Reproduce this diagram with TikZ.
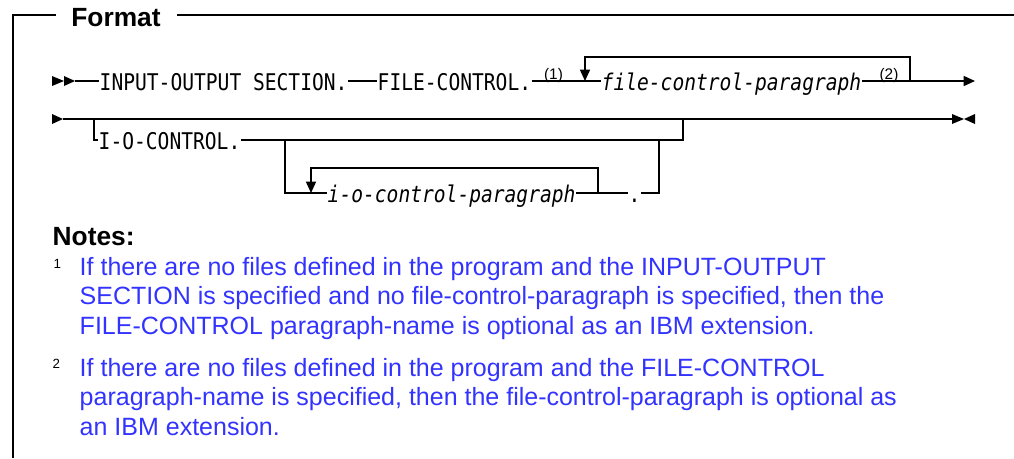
\documentclass[tikz,border=0pt]{standalone}
\usepackage{fontspec}
\setmainfont{Liberation Sans}
\newfontfamily\synfont{DejaVu Sans Mono}[FakeStretch=0.852]
\usetikzlibrary{arrows.meta}
\definecolor{noteblue}{RGB}{51,51,255}
\begin{document}
\begin{tikzpicture}[x=0.75pt, y=-0.75pt, line width=1.1pt,
  syn/.style={font=\synfont\fontsize{17.25}{19}\selectfont, inner sep=0pt,
    text height=13.5pt, text depth=0pt, anchor=west},
  synit/.style={syn, font=\synfont\itshape\fontsize{17.25}{19}\selectfont},
  refmark/.style={font=\fontsize{11.5}{13}\selectfont, inner sep=0pt, anchor=base},
  heading/.style={font=\bfseries\fontsize{19.75}{22}\selectfont, inner sep=0pt},
  notenum/.style={font=\fontsize{10}{11}\selectfont, inner sep=0pt, anchor=base west},
  notetext/.style={font=\fontsize{18.75}{22}\selectfont, text=noteblue, inner sep=0pt, anchor=base west},
  arrowend/.style={-{Triangle[length=8.5pt,width=7.5pt]}},
  marker/.style={fill=black, draw=none}]
\fill[white] (0,0) rectangle (1014,458);
\useasboundingbox (0,0) rectangle (1014,458);

% frame with its heading
\node[heading, anchor=base] (fmt) at (116,26) {Format};
\coordinate (frA) at (56,15);
\coordinate (frB) at (13,15);
\coordinate (frC) at (13,458);
\coordinate (frD) at (177,15);
\coordinate (frE) at (1014,15);
\draw (frA) -- (frB) -- (frC);
\draw (frD) -- (frE);

% first line of the syntax diagram
\fill[marker] (52,76) -- (64,81) -- (52,86) -- cycle;
\fill[marker] (64,76) -- (75,81) -- (64,86) -- cycle;
\coordinate (s1) at (75,81);
\node[syn] (ios) at (99,81) {INPUT-OUTPUT SECTION.};
\node[syn] (fc) at (377,81) {FILE-CONTROL.};
\coordinate (loopin) at (585,81);
\node[synit] (fcp) at (601,81) {file-control-paragraph};
\coordinate (loopout) at (910,81);
\coordinate (e1) at (975,81);
\node[refmark] (r1) at (553.5,79.5) {(1)};
\node[refmark] (r2) at (889,79.5) {(2)};
\draw (s1) -- (ios);
\draw (ios) -- (fc);
\draw (fc) -- (loopin) -- (fcp);
\draw (fcp) -- (loopout);
\draw[arrowend] (loopout) -- (e1);
\draw[arrowend] (loopout) -- ++(0,-24) -| (loopin);

% second line of the syntax diagram
\fill[marker] (52,114) -- (63,119) -- (52,124) -- cycle;
\coordinate (s2) at (63,119);
\coordinate (bra) at (94,119);
\coordinate (brb) at (683,119);
\coordinate (e2) at (952,119);
\draw (s2) -- (e2);
\fill[marker] (952,114) -- (964,119) -- (952,124) -- cycle;
\fill[marker] (975,114) -- (964,119) -- (975,124) -- cycle;

\node[syn] (ioc) at (98,140) {I-O-CONTROL.};
\coordinate (jin) at (285,140);
\coordinate (jout) at (659,140);
\coordinate (brc) at (683,140);
\draw (bra) |- (ioc);
\draw (ioc) -- (brc) -- (brb);

\coordinate (loop2in) at (311,193);
\node[synit] (iocp) at (327,193) {i-o-control-paragraph};
\coordinate (loop2out) at (598,193);
\node[syn] (dot) at (628,193) {.};
\coordinate (jend) at (659,193);
\draw (jin) |- (loop2in) -- (iocp);
\draw (iocp) -- (loop2out) -- (dot);
\draw (dot) -- (jend) -- (jout);
\draw[arrowend] (loop2out) -- ++(0,-25) -| (loop2in);

% notes
\node[heading, anchor=base west] (notes) at (52,245) {Notes:};
\node[notenum] (m1) at (53,268) {1};
\node[notetext] (t11) at (79,275) {If there are no files defined in the program and the INPUT-OUTPUT};
\node[notetext] (t12) at (79,304.5) {SECTION is specified and no file-control-paragraph is specified, then the};
\node[notetext] (t13) at (79,334) {FILE-CONTROL paragraph-name is optional as an IBM extension.};
\node[notenum] (m2) at (52,368) {2};
\node[notetext] (t21) at (79,376) {If there are no files defined in the program and the FILE-CONTROL};
\node[notetext] (t22) at (79,405.5) {paragraph-name is specified, then the file-control-paragraph is optional as};
\node[notetext] (t23) at (79,435) {an IBM extension.};
\end{tikzpicture}
\end{document}
